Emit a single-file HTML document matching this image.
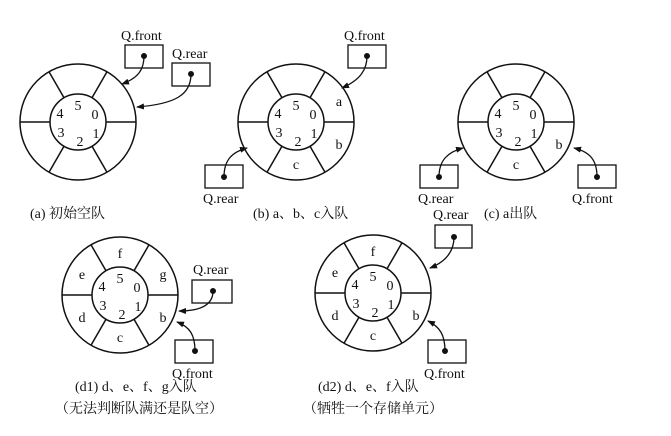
<!DOCTYPE html>
<html><head><meta charset="utf-8"><style>
html,body{margin:0;padding:0;background:#fff;}
svg{display:block;}
text{font-family:"Liberation Serif","Noto Serif CJK SC",serif;fill:#111;}
.c{font-family:"Liberation Serif","Noto Sans CJK SC",sans-serif;font-size:14px;}
</style></head><body>
<svg width="671" height="436" viewBox="0 0 671 436" xmlns="http://www.w3.org/2000/svg">
<defs>
<marker id="ar" markerWidth="8" markerHeight="6" refX="7" refY="3" orient="auto" markerUnits="userSpaceOnUse">
<path d="M0,0 L8,3 L0,6 Z" fill="#111"/></marker>
<g id="ring" stroke="#111" stroke-width="1.5" fill="none">
<circle r="58"/><circle r="28"/>
<line x1="28" y1="0" x2="58" y2="0"/><line x1="-28" y1="0" x2="-58" y2="0"/>
<line x1="14" y1="-24.2" x2="29" y2="-50.2"/><line x1="-14" y1="-24.2" x2="-29" y2="-50.2"/>
<line x1="14" y1="24.2" x2="29" y2="50.2"/><line x1="-14" y1="24.2" x2="-29" y2="50.2"/>
</g>
<g id="nums" font-size="14" text-anchor="middle">
<text x="0" y="-12">5</text><text x="17" y="-3">0</text><text x="18" y="16">1</text>
<text x="2" y="24">2</text><text x="-17" y="15">3</text><text x="-18" y="-4">4</text>
</g>
</defs>
<g font-size="14" stroke="none">
<!-- a -->
<g transform="translate(78,122)"><use href="#ring"/><use href="#nums"/></g>
<!-- b -->
<g transform="translate(296,122)"><use href="#ring"/><use href="#nums"/>
<text x="43" y="-16" text-anchor="middle">a</text><text x="43" y="27" text-anchor="middle">b</text><text x="0" y="47" text-anchor="middle">c</text></g>
<!-- c -->
<g transform="translate(516,122)"><use href="#ring"/><use href="#nums"/>
<text x="43" y="27" text-anchor="middle">b</text><text x="0" y="47" text-anchor="middle">c</text></g>
<!-- d1 -->
<g transform="translate(120,295)"><use href="#ring"/><use href="#nums"/>
<text x="0" y="-37" text-anchor="middle">f</text><text x="43" y="-16" text-anchor="middle">g</text><text x="43" y="27" text-anchor="middle">b</text><text x="0" y="47" text-anchor="middle">c</text><text x="-38" y="27" text-anchor="middle">d</text><text x="-38" y="-16" text-anchor="middle">e</text></g>
<!-- d2 -->
<g transform="translate(373,293)"><use href="#ring"/><use href="#nums"/>
<text x="0" y="-37" text-anchor="middle">f</text><text x="43" y="27" text-anchor="middle">b</text><text x="0" y="47" text-anchor="middle">c</text><text x="-38" y="27" text-anchor="middle">d</text><text x="-38" y="-16" text-anchor="middle">e</text></g>
</g>
<g stroke="#111" stroke-width="1.3" fill="none">
<rect x="125" y="45" width="38" height="23"/><rect x="172" y="63" width="38" height="23"/>
<rect x="348" y="45" width="38" height="23"/><rect x="205" y="165" width="38" height="23"/>
<rect x="420" y="165" width="38" height="23"/><rect x="578" y="165" width="38" height="23"/>
<rect x="192" y="280" width="40" height="23"/><rect x="175" y="340" width="38" height="23"/>
<rect x="435" y="225" width="37" height="23"/><rect x="428" y="340" width="38" height="23"/>
<path d="M144,56 C144,70 138,78 122,84" marker-end="url(#ar)"/>
<path d="M191,74 C191,95 175,104 137,107" marker-end="url(#ar)"/>
<path d="M367,56 C367,70 360,80 342,88" marker-end="url(#ar)"/>
<path d="M224,177 C224,160 232,152 247,148" marker-end="url(#ar)"/>
<path d="M439,177 C439,160 448,152 463,148" marker-end="url(#ar)"/>
<path d="M597,177 C597,160 590,152 574,148" marker-end="url(#ar)"/>
<path d="M213,291 C213,305 200,311 179,311" marker-end="url(#ar)"/>
<path d="M195,351 C195,335 190,327 177,322" marker-end="url(#ar)"/>
<path d="M454,237 C454,252 445,262 430,268" marker-end="url(#ar)"/>
<path d="M445,351 C445,335 440,327 428,321" marker-end="url(#ar)"/>
</g>
<g fill="#111" stroke="#111">
<circle cx="144" cy="56" r="2.5"/><circle cx="191" cy="74" r="2.5"/><circle cx="367" cy="56" r="2.5"/>
<circle cx="224" cy="177" r="2.5"/><circle cx="439" cy="177" r="2.5"/><circle cx="597" cy="177" r="2.5"/>
<circle cx="213" cy="291" r="2.5"/><circle cx="195" cy="351" r="2.5"/><circle cx="454" cy="237" r="2.5"/><circle cx="445" cy="351" r="2.5"/>
</g>
<g font-size="14">
<text x="121" y="40">Q.front</text><text x="172" y="58">Q.rear</text>
<text x="344" y="40">Q.front</text><text x="203" y="203">Q.rear</text>
<text x="418" y="203">Q.rear</text><text x="572" y="203">Q.front</text>
<text x="193" y="274">Q.rear</text><text x="172" y="378">Q.front</text>
<text x="433" y="219">Q.rear</text><text x="424" y="378">Q.front</text>
</g>
<g class="c">
<text x="30" y="218">(a) 初始空队</text>
<text x="253" y="218">(b) a、b、c入队</text>
<text x="484" y="218">(c) a出队</text>
<text x="75" y="391">(d1) d、e、f、g入队</text>
<text x="55" y="413">（无法判断队满还是队空）</text>
<text x="318" y="391">(d2) d、e、f入队</text>
<text x="303" y="413">（牺牲一个存储单元）</text>
</g>
</svg>
</body></html>
